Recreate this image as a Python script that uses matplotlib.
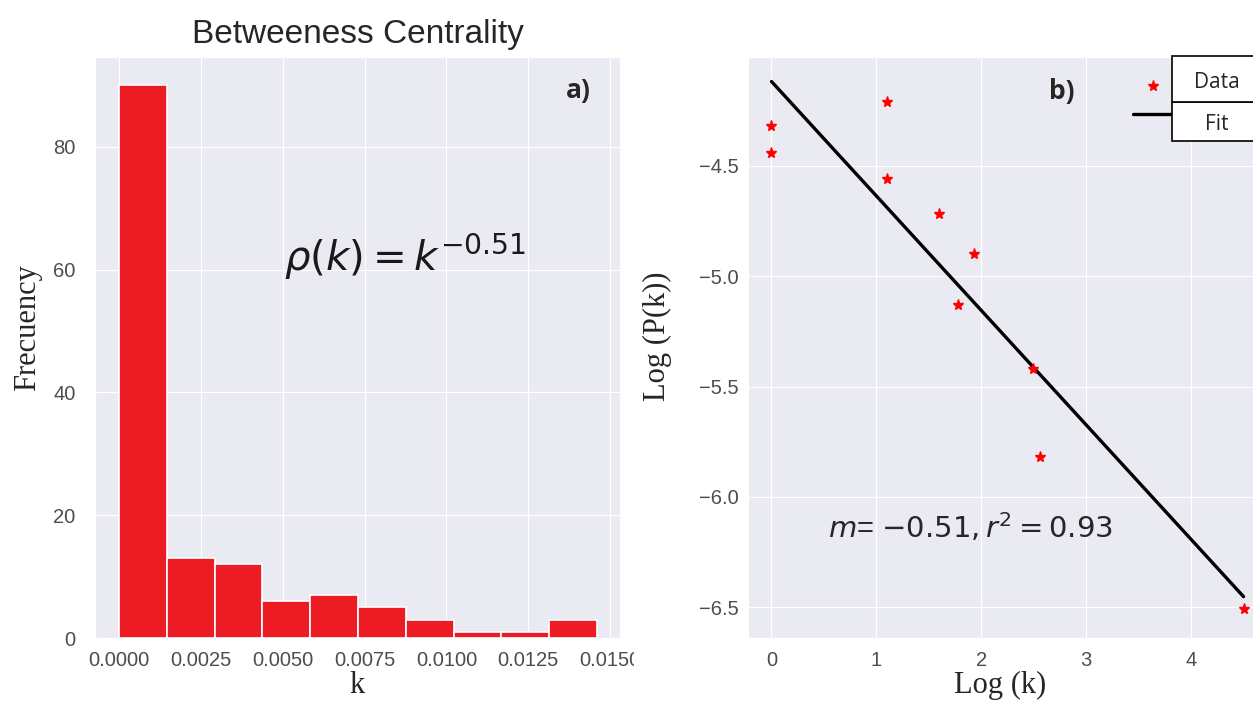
import numpy as np
import matplotlib.pyplot as plt
import seaborn as sns
from matplotlib.lines import Line2D
from matplotlib.patches import Rectangle
from matplotlib.transforms import Bbox, TransformedBbox

# histogram of betweeness centrality
bin_edges = [0.0, 0.00146, 0.00292, 0.00438, 0.00584, 0.0073,
             0.00876, 0.01022, 0.01168, 0.01314, 0.0146]
counts = [90, 13, 12, 6, 7, 5, 3, 1, 1, 3]

# log-log points and fit
log_k = [0.0, 0.0, 1.10, 1.10, 1.60, 1.78, 1.93, 2.49, 2.56, 4.50]
log_pk = [-4.32, -4.44, -4.21, -4.56, -4.72, -5.13, -4.90, -5.42, -5.82, -6.51]
fit_m = -0.519
fit_b = -4.117

sns.set_style("darkgrid")
plt.rcParams['font.family'] = ['Liberation Sans', 'DejaVu Sans']
plt.rcParams['axes.unicode_minus'] = True

W, H = 1253, 704
fig = plt.figure(figsize=(W / 100, H / 100), dpi=100)

serif = ['Liberation Serif', 'DejaVu Serif']
boldfont = ['Open Sans', 'DejaVu Sans']
tick_col = '.3'

# ---- a) histogram
ax1 = fig.add_axes([95 / W, 1 - 638 / H, 525 / W, 581 / H])
edges = np.array(bin_edges)
ax1.bar(edges[:-1], counts, width=np.diff(edges), align='edge',
        color='#ED1C24', edgecolor='white', linewidth=1.2, zorder=2)
ax1.set_xlim(-0.00073, 0.0153)
ax1.set_ylim(0, 94.6)
ax1.set_xticks([0.0, 0.0025, 0.005, 0.0075, 0.01, 0.0125, 0.015])
ax1.set_xticklabels(['0.0000', '0.0025', '0.0050', '0.0075', '0.0100', '0.0125', '0.0150'])
ax1.set_yticks([0, 20, 40, 60, 80])
ax1.tick_params(axis='both', labelsize=14.5, colors=tick_col, length=0)
ax1.tick_params(axis='x', pad=9)
ax1.tick_params(axis='y', pad=14)
ax1.set_title('Betweeness Centrality', fontsize=24, color='.15', pad=10)
ax1.set_xlabel('k', family=serif, fontsize=22, labelpad=1)
ax1.set_ylabel('Frecuency', family=serif, fontsize=22)
ax1.yaxis.set_label_coords(-0.101, 0.535)
ax1.text(0.59, 0.655, r'$\rho(k) = k^{-0.51}$', transform=ax1.transAxes,
         fontsize=29, ha='center', va='center', color='.1')
ax1.text(0.92, 0.943, 'a)', transform=ax1.transAxes, fontsize=19,
         fontweight='bold', family=boldfont, ha='center', va='center')

# the right edge of the last tick label is cut in the original
clip = TransformedBbox(Bbox([[0, 0], [634 / W, 1]]), fig.transFigure)
for lab in ax1.get_xticklabels():
    lab.set_clip_box(clip)
    lab.set_clip_on(True)

# ---- b) log-log fit
ax2 = fig.add_axes([748 / W, 1 - 638 / H, 505 / W, 581 / H])
ax2.plot(log_k, log_pk, linestyle='none', marker='*', color='red',
         markersize=8, zorder=3)
xf = np.array([min(log_k), max(log_k)])
ax2.plot(xf, fit_b + fit_m * xf, color='black', linewidth=2.4, zorder=2)
ax2.set_xlim(-0.224, 4.59)
ax2.set_ylim(-6.64, -4.006)
ax2.set_xticks([0, 1, 2, 3, 4])
ax2.set_yticks([-4.5, -5.0, -5.5, -6.0, -6.5])
ax2.tick_params(axis='both', labelsize=14.5, colors=tick_col, length=0)
ax2.tick_params(axis='x', pad=9)
ax2.tick_params(axis='y', pad=7)
ax2.set_xlabel('Log (k)', family=serif, fontsize=22, labelpad=1)
ax2.set_ylabel('Log (P(k))', family=serif, fontsize=22)
ax2.yaxis.set_label_coords(-0.15, 0.52)
ax2.text(0.44, 0.19, r'$m$= $-0.51, r^2 = 0.93$', transform=ax2.transAxes,
         fontsize=21, ha='center', va='center', color='.15')
ax2.text(0.622, 0.94, 'b)', transform=ax2.transAxes, fontsize=19,
         fontweight='bold', family=boldfont, ha='center', va='center')

handles = [Line2D([], [], linestyle='none', marker='*', color='red', markersize=8),
           Line2D([], [], color='black', linewidth=2.4)]
ax2.legend(handles, ['', ''], loc='upper left', bbox_to_anchor=(0.745, 0.978),
           frameon=False, handlelength=2.0, labelspacing=0.45, fontsize=15,
           handletextpad=0.0, borderaxespad=0)

# table-like box with the legend labels
tab = fig.add_axes([1172 / W, 1 - 141 / H, 90 / W, 85 / H])
tab.set_axis_off()
tab.set_xlim(0, 90)
tab.set_ylim(0, 85)
boxes = [('Fit', 0, 39), ('Data', 39, 46)]
for name, y0, h in boxes:
    tab.add_patch(Rectangle((0, y0), 90, h, facecolor='white', edgecolor='black',
                            linewidth=1.2, clip_on=False))
    tab.text(45, y0 + h * 0.42, name, ha='center', va='center', fontsize=15,
             family=['Open Sans', 'DejaVu Sans'])

fig.savefig('out.png', dpi=100)
